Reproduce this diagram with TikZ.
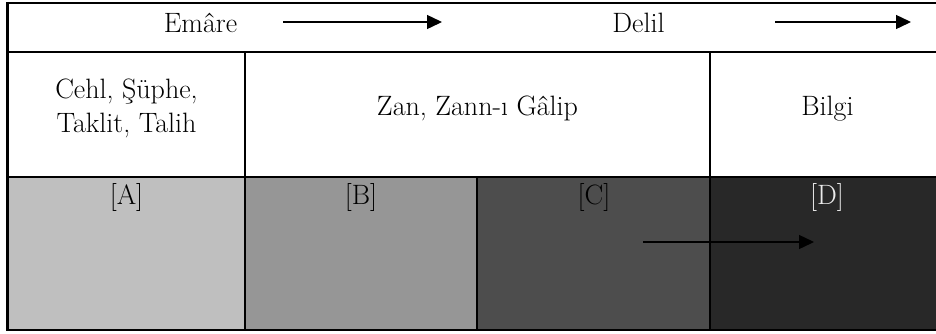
\documentclass[tikz,border=0pt]{standalone}
\usetikzlibrary{arrows.meta}
\definecolor{cellA}{RGB}{191,191,191}
\definecolor{cellB}{RGB}{150,150,150}
\definecolor{cellC}{RGB}{77,77,77}
\definecolor{cellD}{RGB}{40,40,40}
\definecolor{textD}{RGB}{235,235,235}
\begin{document}
\begin{tikzpicture}[x=1pt,y=-1pt,
  rule/.style={line width=2.2pt},
  flow/.style={line width=1.4pt,-{Triangle[length=15pt,width=14pt]}},
  txt/.style={font=\fontsize{28}{34}\selectfont,inner sep=0pt},
  lbl/.style={font=\fontsize{28}{34}\selectfont,inner sep=0pt,anchor=base}]
\useasboundingbox (0,0) rectangle (936,333);
% row 3 fills
\fill[cellA] (7.5,177) rectangle (245,330);
\fill[cellB] (245,177) rectangle (477,330);
\fill[cellC] (477,177) rectangle (710,330);
\fill[cellD] (710,177) rectangle (940,330);
% rules
\draw[rule] (7.5,3) -- (940,3);
\draw[rule] (7.5,52) -- (940,52);
\draw[rule] (7.5,177) -- (940,177);
\draw[rule] (6.4,330) -- (940,330);
\draw[rule] (7.5,1.9) -- (7.5,331.1);
\draw[rule] (245,52) -- (245,330);
\draw[rule] (710,52) -- (710,330);
\draw[rule] (477,177) -- (477,330);
% row 1
\node[lbl] (emare) at (200.5,32) {Emâre};
\node[lbl] (delil) at (638.5,32) {Delil};
\coordinate (a1s) at (283,22);
\coordinate (a1e) at (442,22);
\coordinate (a2s) at (775,22);
\coordinate (a2e) at (911,22);
\draw[flow] (a1s) -- (a1e);
\draw[flow] (a2s) -- (a2e);
% row 2
\node[txt,align=center] (cehl) at (126.5,108.5) {Cehl, Şüphe,\\Taklit, Talih};
\node[lbl] (zan) at (477.5,115) {Zan, Zann-ı Gâlip};
\node[lbl] (bilgi) at (827.5,115) {Bilgi};
% row 3
\node[lbl] (A) at (126.5,204) {[A]};
\node[lbl] (B) at (361,204) {[B]};
\node[lbl] (C) at (594,204) {[C]};
\node[lbl,text=textD] (D) at (827,204) {[D]};
\coordinate (a3s) at (643,242);
\coordinate (a3e) at (814,242);
\draw[flow] (a3s) -- (a3e);
\end{tikzpicture}
\end{document}
